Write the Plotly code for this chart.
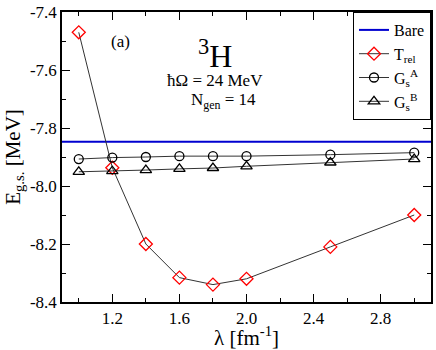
import plotly.graph_objects as go

# DATA
lam = [1.0, 1.2, 1.4, 1.6, 1.8, 2.0, 2.5, 3.0]
e_bare = -7.847
e_trel = [-7.47, -7.937, -8.20, -8.316, -8.34, -8.32, -8.21, -8.10]
e_gsa = [-7.907, -7.902, -7.900, -7.897, -7.897, -7.897, -7.892, -7.885]
e_gsb = [-7.951, -7.949, -7.945, -7.941, -7.938, -7.932, -7.919, -7.907]

x_ticks = [1.2, 1.6, 2.0, 2.4, 2.8]
x_ticktext = ["1.2", "1.6", "2.0", "2.4", "2.8"]
y_ticks = [-8.4, -8.2, -8.0, -7.8, -7.6, -7.4]
y_ticktext = ["-8.4", "-8.2", "-8.0", "-7.8", "-7.6", "-7.4"]

FONT = "Liberation Serif, Times New Roman, DejaVu Serif, serif"

fig = go.Figure()

fig.add_trace(go.Scatter(
    x=[0.9, 3.1], y=[e_bare, e_bare], mode="lines",
    line=dict(color="#0000d0", width=2), name="Bare"))

fig.add_trace(go.Scatter(
    x=lam, y=e_trel, mode="lines+markers", name="T<sub>rel</sub>",
    line=dict(color="#333333", width=1),
    marker=dict(symbol="diamond-open", size=10, color="#ff0000", line=dict(width=1.3))))

fig.add_trace(go.Scatter(
    x=lam, y=e_gsa, mode="lines+markers", name="G<sub>s</sub><sup>A</sup>",
    line=dict(color="#333333", width=1),
    marker=dict(symbol="circle-open", size=9, color="black", line=dict(width=1.3))))

fig.add_trace(go.Scatter(
    x=lam, y=e_gsb, mode="lines+markers", name="G<sub>s</sub><sup>B</sup>",
    line=dict(color="#333333", width=1),
    marker=dict(symbol="triangle-up-open", size=10, color="black", line=dict(width=1.3))))

# text labels inside the plot
fig.add_annotation(x=1.25, y=-7.503, text="(a)", showarrow=False,
                   font=dict(family=FONT, size=17, color="black"))
fig.add_annotation(x=1.815, y=-7.545, text="<sup>3</sup>H", showarrow=False,
                   font=dict(family=FONT, size=32, color="black"))
fig.add_annotation(x=1.81, y=-7.636, text="ħΩ = 24 MeV", showarrow=False,
                   font=dict(family=FONT, size=17, color="black"))
fig.add_annotation(x=1.86, y=-7.708, text="N<sub>gen</sub> = 14", showarrow=False,
                   font=dict(family=FONT, size=17, color="black"))

axis_common = dict(
    showline=True, linecolor="black", linewidth=1.5, mirror="ticks",
    ticks="inside", ticklen=8, tickwidth=1.2, tickcolor="black",
    showgrid=False, zeroline=False, ticklabeloverflow="allow",
    tickfont=dict(family=FONT, size=17, color="black"),
)

fig.update_xaxes(
    range=[0.9, 3.1], tickvals=x_ticks, ticktext=x_ticktext,
    minor=dict(ticks="inside", ticklen=4, tickwidth=1.2, tickcolor="black", dtick=0.2, tick0=1.0),
    title=dict(text="λ [fm<sup>-1</sup>]", font=dict(family=FONT, size=21, color="black"), standoff=4),
    **axis_common)

fig.update_yaxes(
    range=[-8.4, -7.4], tickvals=y_ticks, ticktext=y_ticktext,
    minor=dict(ticks="inside", ticklen=4, tickwidth=1.2, tickcolor="black", dtick=0.1, tick0=-8.4),
    title=dict(text="E<sub>g.s.</sub> [MeV]", font=dict(family=FONT, size=21, color="black"), standoff=4),
    **axis_common)

fig.update_layout(
    width=436, height=350,
    margin=dict(l=62, r=3, t=7, b=43),
    plot_bgcolor="white", paper_bgcolor="white",
    font=dict(family=FONT, color="black"),
    legend=dict(x=1, y=1, xanchor="right", yanchor="top",
                bordercolor="black", borderwidth=1, bgcolor="white",
                font=dict(family=FONT, size=16, color="black"),
                itemwidth=30, tracegroupgap=0),
)

fig.write_html("out.html", config={"displayModeBar": False},
               post_script="document.body.style.margin='0px';")
